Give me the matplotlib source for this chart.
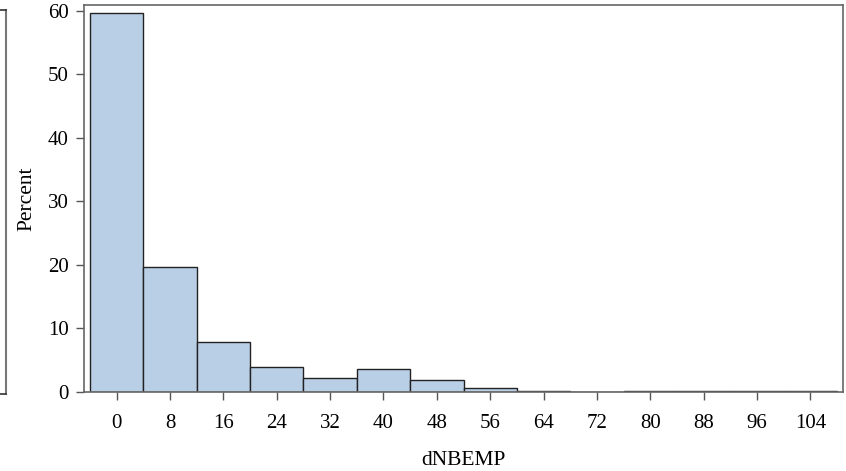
import numpy as np
import matplotlib.pyplot as plt
from matplotlib.lines import Line2D

# histogram of dNBEMP, bin width 8 centred on the tick values
bin_mids = [0, 8, 16, 24, 32, 40, 48, 56, 64, 72, 80, 88, 96, 104]
percent = [59.6, 19.6, 7.8, 3.9, 2.15, 3.6, 1.95, 0.63, 0.15, 0.0, 0.2, 0.12, 0.2, 0.12]
bin_width = 8

plt.rcParams['font.family'] = ['Liberation Serif', 'DejaVu Serif']

fig = plt.figure(figsize=(8.46, 4.71), dpi=100)
ax = fig.add_axes([0.0993, 0.1677, 0.8972, 0.8217])

ax.bar(bin_mids, percent, width=bin_width, color='#b9cfe6', edgecolor='#222222', linewidth=1.0, zorder=2)

ax.set_xlim(-4.9, 108.9)
ax.set_ylim(0, 60.9)
ax.set_xticks(bin_mids)
ax.set_yticks([0, 10, 20, 30, 40, 50, 60])
ax.tick_params(direction='out', length=6, width=1, color='#555555', labelsize=15)
ax.tick_params(axis='x', pad=10)
ax.tick_params(axis='y', pad=5)
for s in ax.spines.values():
    s.set_color('#666666')
    s.set_linewidth(1.2)

ax.set_xlabel('dNBEMP', fontsize=15.5, labelpad=13)
ax.set_ylabel('Percent', fontsize=15.5, labelpad=8.5)

# right edge of the neighbouring panel
fig.add_artist(Line2D([6/846, 6/846], [1 - 10/471, 1 - 394/471], color='#777777', lw=1.5))
fig.add_artist(Line2D([0, 6/846], [1 - 10/471, 1 - 10/471], color='#333333', lw=1.2))
fig.add_artist(Line2D([0, 6/846], [1 - 394/471, 1 - 394/471], color='#333333', lw=1.2))

fig.savefig('out.png', dpi=100)
